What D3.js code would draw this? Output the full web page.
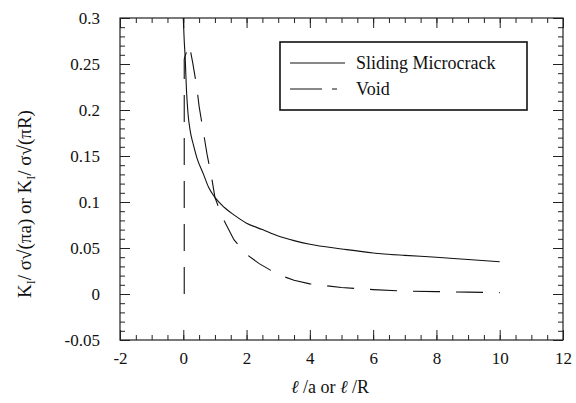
<!DOCTYPE html>
<html>
<head>
<script src="https://cdn.jsdelivr.net/npm/d3@7"></script>
<style>
  body { margin: 0; background: #fff; }
  svg text { font-family: "Liberation Serif", "Times New Roman", Times, "DejaVu Serif", serif !important; fill: #111; }
</style>
</head>
<body>
<div id="viz"></div>
<script>
var crackX = [0, 0.03, 0.06, 0.1, 0.15, 0.22, 0.32, 0.43, 0.64, 0.8, 1.0, 1.3, 1.6, 2.0, 2.5, 3, 3.5, 4, 5, 6, 7, 8, 9, 10];
var crackY = [0.3, 0.275, 0.257, 0.222, 0.196, 0.177, 0.162, 0.148, 0.13, 0.116, 0.105, 0.094, 0.086, 0.077, 0.07, 0.063, 0.058, 0.054, 0.049, 0.0446, 0.042, 0.040, 0.0375, 0.035];
var voidX = [0.03, 0.03, 0.05, 0.19, 0.3, 0.43, 0.5, 0.64, 0.75, 0.9, 1.0, 1.15, 1.3, 1.6, 2.0, 2.4, 3, 3.5, 4, 5, 6, 7, 8, 9, 10];
var voidY = [0, 0.255, 0.258, 0.271, 0.251, 0.224, 0.204, 0.175, 0.152, 0.126, 0.105, 0.091, 0.079, 0.059, 0.043, 0.033, 0.021, 0.015, 0.011, 0.007, 0.0048, 0.0032, 0.0026, 0.002, 0.0015];
var xTicks = [-2, 0, 2, 4, 6, 8, 10, 12];
var xLabels = ["-2", "0", "2", "4", "6", "8", "10", "12"];
var yTicks = [-0.05, 0, 0.05, 0.1, 0.15, 0.2, 0.25, 0.3];
var yLabels = ["-0.05", "0", "0.05", "0.1", "0.15", "0.2", "0.25", "0.3"];
var names = ["Sliding Microcrack", "Void"];

var W = 576, H = 403;
var L = 120, R = 563, T = 18, B = 340;
var FONT = '"Liberation Serif", "Times New Roman", Times, serif';

var svg = d3.select("#viz").append("svg")
  .attr("width", W).attr("height", H);

var x = d3.scaleLinear().domain([-2, 12]).range([L, R]);
var y = d3.scaleLinear().domain([-0.05, 0.3]).range([B, T]);

var xMinor = d3.range(-2, 12.01, 0.5);
var yMinor = d3.range(-0.05, 0.3001, 0.01);

function noDomain(g) {
  g.attr("font-family", FONT);
  g.select(".domain").remove();
  g.selectAll("line").attr("stroke", "#222");
}

// bottom
svg.append("g").attr("transform", "translate(0," + B + ")")
  .call(d3.axisBottom(x).tickValues(xMinor).tickFormat("").tickSize(-5)).call(noDomain);
svg.append("g").attr("transform", "translate(0," + B + ")")
  .call(d3.axisBottom(x).tickValues(xTicks).tickFormat(function(d, i) { return xLabels[i]; }).tickSize(-10).tickPadding(12))
  .call(noDomain)
  .selectAll("text").style("font-size", "17px");
// top
svg.append("g").attr("transform", "translate(0," + T + ")")
  .call(d3.axisTop(x).tickValues(xMinor).tickFormat("").tickSize(-5)).call(noDomain);
svg.append("g").attr("transform", "translate(0," + T + ")")
  .call(d3.axisTop(x).tickValues(xTicks).tickFormat("").tickSize(-10)).call(noDomain);
// left
svg.append("g").attr("transform", "translate(" + L + ",0)")
  .call(d3.axisLeft(y).tickValues(yMinor).tickFormat("").tickSize(-5)).call(noDomain);
svg.append("g").attr("transform", "translate(" + L + ",0)")
  .call(d3.axisLeft(y).tickValues(yTicks).tickFormat(function(d, i) { return yLabels[i]; }).tickSize(-10).tickPadding(20))
  .call(noDomain)
  .selectAll("text").style("font-size", "17px");
// right
svg.append("g").attr("transform", "translate(" + R + ",0)")
  .call(d3.axisRight(y).tickValues(yMinor).tickFormat("").tickSize(-5)).call(noDomain);
svg.append("g").attr("transform", "translate(" + R + ",0)")
  .call(d3.axisRight(y).tickValues(yTicks).tickFormat("").tickSize(-10)).call(noDomain);

svg.append("rect")
  .attr("x", L).attr("y", T).attr("width", R - L).attr("height", B - T)
  .style("fill", "none").style("stroke", "#222").style("stroke-width", 1.2);

var crack = crackX.map(function(v, i) { return [v, crackY[i]]; });
var voids = voidX.map(function(v, i) { return [v, voidY[i]]; });

var smooth = d3.line()
  .x(function(d) { return x(d[0]); })
  .y(function(d) { return y(d[1]); })
  .curve(d3.curveMonotoneX);
var straight = d3.line()
  .x(function(d) { return x(d[0]); })
  .y(function(d) { return y(d[1]); })
  .curve(d3.curveLinear);

svg.append("path").datum(crack).attr("d", smooth)
  .style("fill", "none").style("stroke", "#111").style("stroke-width", 1.1);
svg.append("path").datum(voids).attr("d", straight)
  .style("fill", "none").style("stroke", "#111").style("stroke-width", 1.1)
  .style("stroke-dasharray", "27,16");

// legend
var lg = svg.append("g").attr("font-family", FONT);
lg.append("rect").attr("x", 280).attr("y", 42).attr("width", 247).attr("height", 68)
  .style("fill", "#fff").style("stroke", "#111").style("stroke-width", 1.6);
lg.append("line").attr("x1", 290).attr("x2", 345).attr("y1", 63).attr("y2", 63)
  .style("stroke", "#111").style("stroke-width", 1);
lg.append("line").attr("x1", 290).attr("x2", 345).attr("y1", 89).attr("y2", 89)
  .style("stroke", "#111").style("stroke-width", 1).style("stroke-dasharray", "32,10,5,20");
lg.append("text").attr("x", 356).attr("y", 69).style("font-size", "18px").text(names[0]);
lg.append("text").attr("x", 356).attr("y", 95).style("font-size", "18px").text(names[1]);

// axis titles
var xt = svg.append("text").attr("x", 330).attr("y", 393).attr("font-family", FONT)
  .attr("text-anchor", "middle").style("font-size", "18px");
xt.append("tspan").style("font-style", "italic").text("ℓ");
xt.append("tspan").text(" /a or ");
xt.append("tspan").style("font-style", "italic").text("ℓ");
xt.append("tspan").text(" /R");

var yt = svg.append("text").attr("transform", "translate(31,204) rotate(-90)").attr("font-family", FONT)
  .attr("text-anchor", "middle").style("font-size", "19px");
yt.append("tspan").text("K");
yt.append("tspan").attr("dy", 4).style("font-size", "12px").text("I");
yt.append("tspan").attr("dy", -4).text("/ σ√(πa) or K");
yt.append("tspan").attr("dy", 4).style("font-size", "12px").text("I");
yt.append("tspan").attr("dy", -4).text("/ σ√(πR)");
</script>
</body>
</html>
